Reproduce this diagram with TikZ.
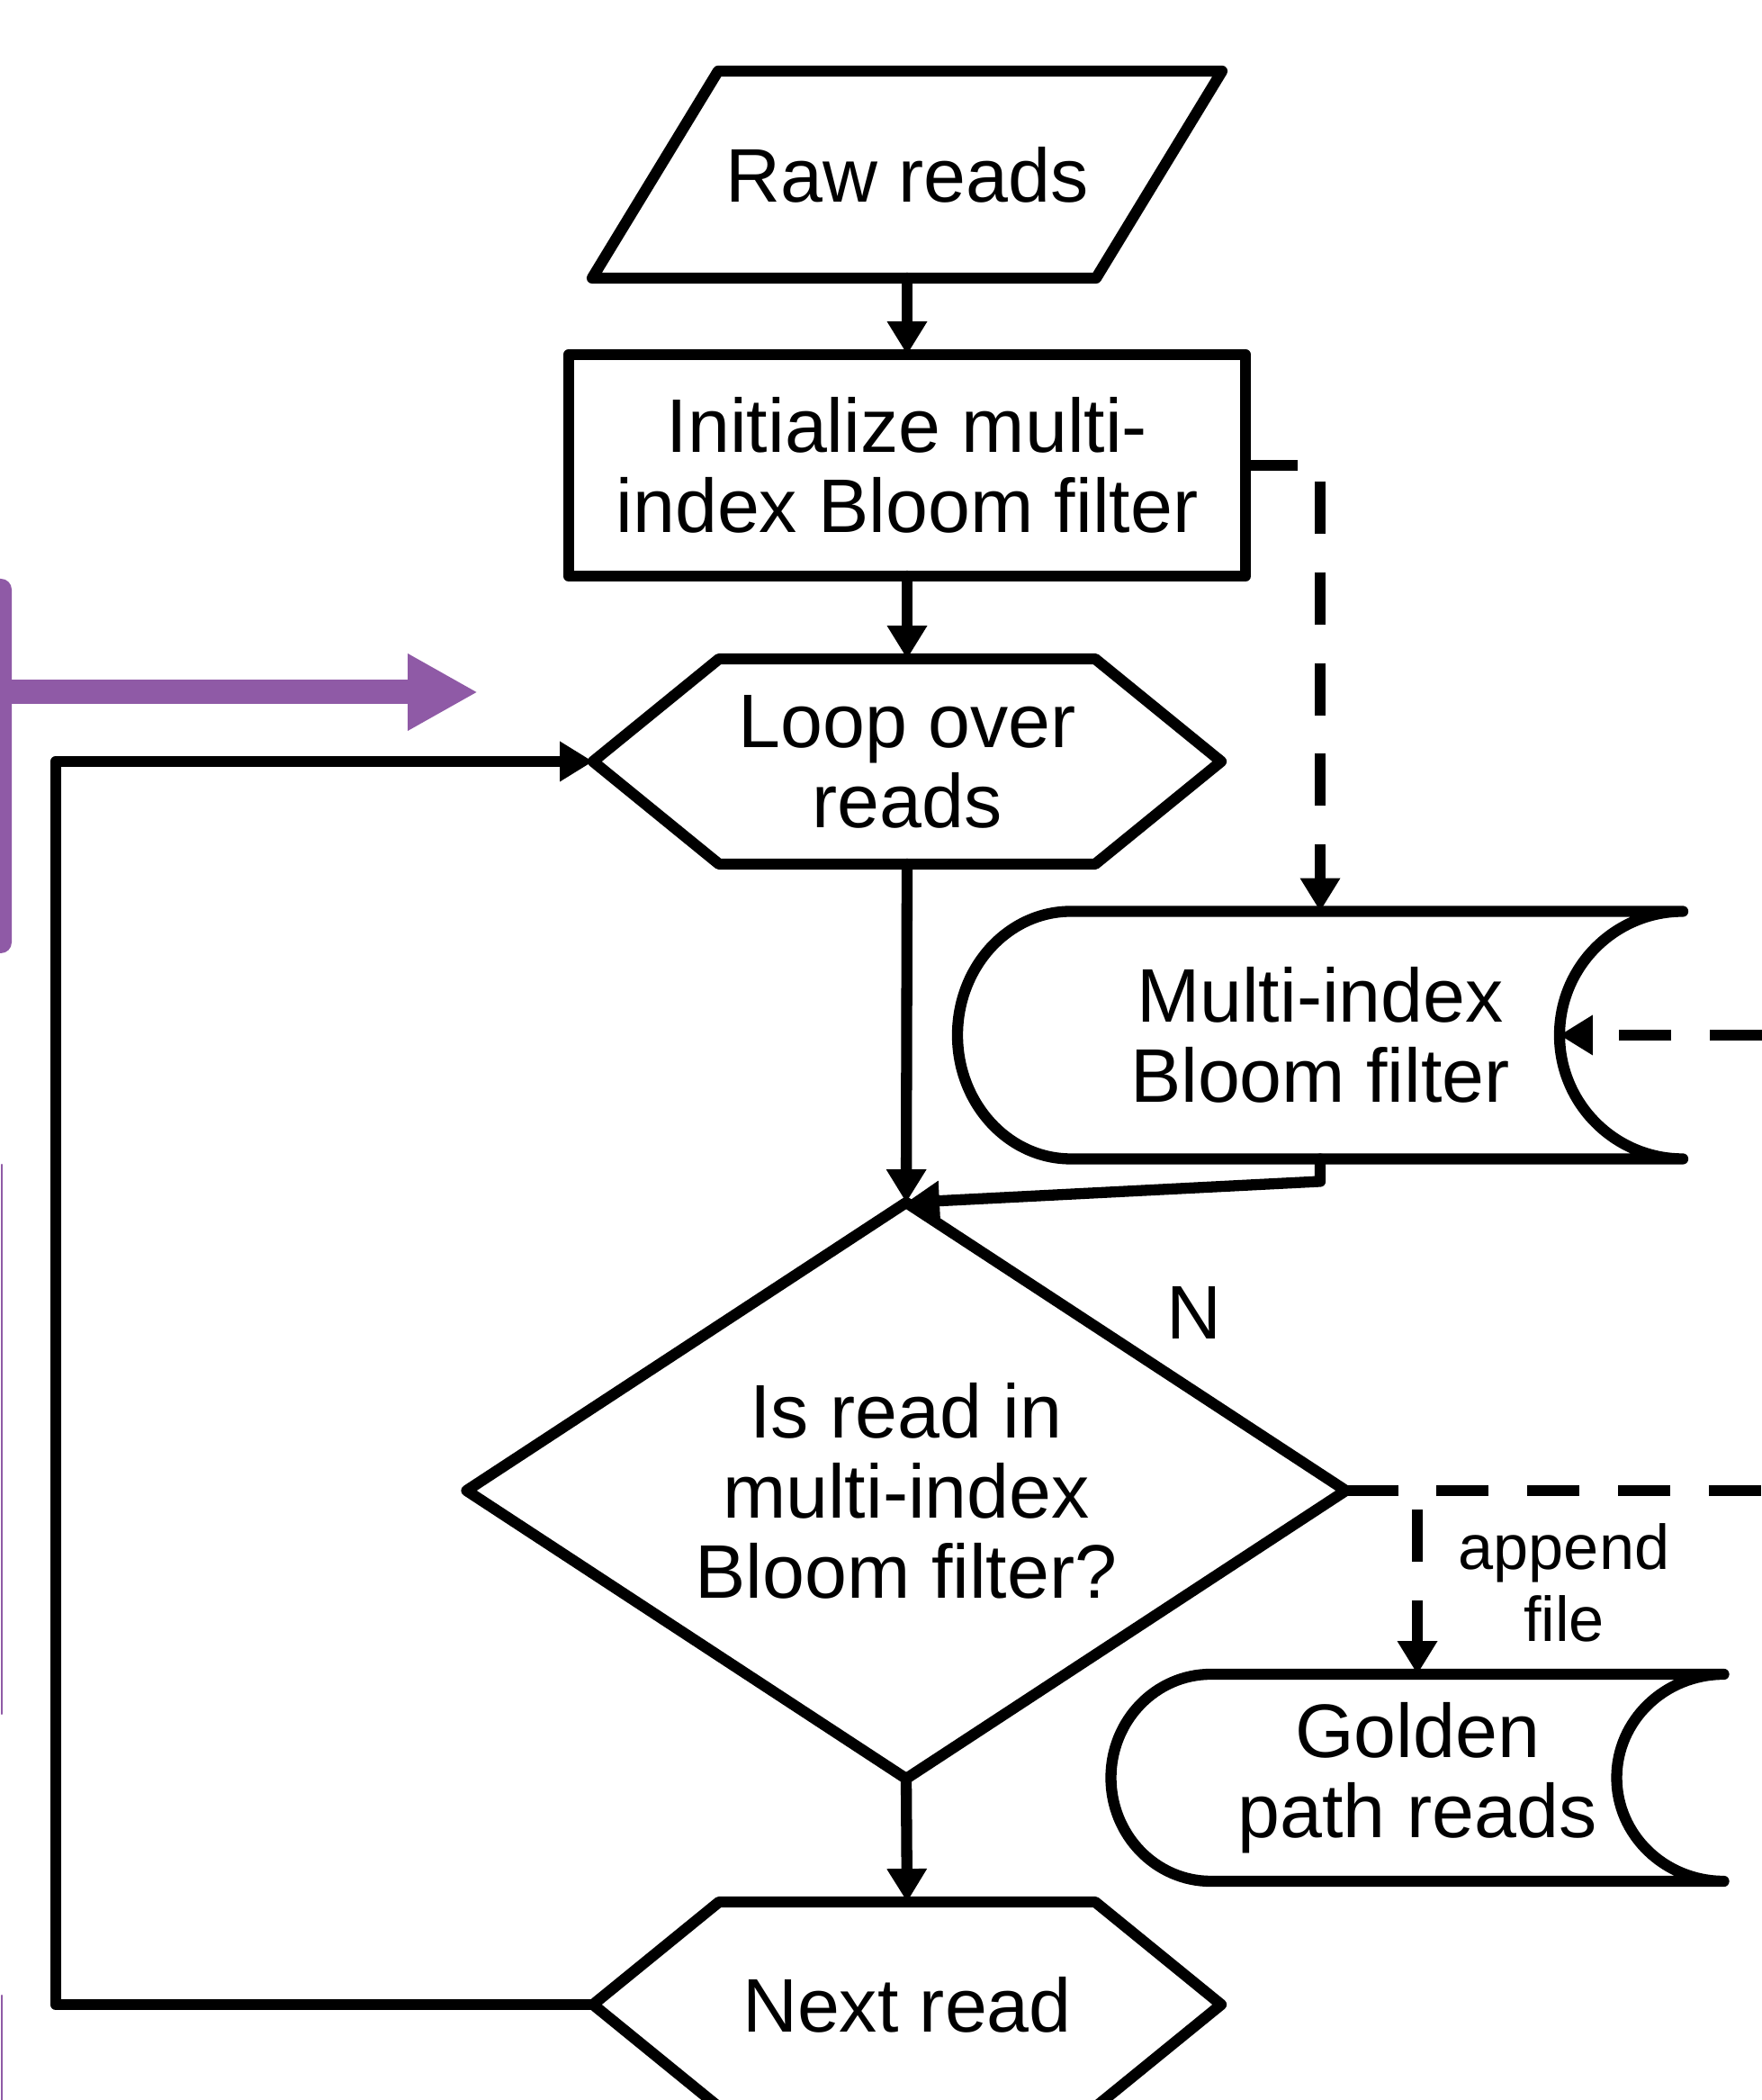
\documentclass[tikz,border=0pt]{standalone}
\usepackage{fontspec}
\setmainfont{Liberation Sans}
\usetikzlibrary{arrows.meta,shapes.geometric}
\definecolor{sidepurple}{RGB}{143,90,166}
\begin{document}
\begin{tikzpicture}[line width=3.5pt, line join=round, line cap=round,
        txt/.style={font=\fontsize{24}{25.3}\selectfont, align=center, inner sep=0pt, outer sep=0pt},
        flow/.style={-{Triangle[width=12pt,length=10.5pt]}},
        dashflow/.style={line cap=butt, dash pattern=on 16.5pt off 12.2pt},
        hexbox/.style={txt, minimum width=6.98cm, minimum height=2.28cm}]
                    \useasboundingbox (0, 0) rectangle (19.58, 23.33);
                    \clip (0, 0) rectangle (19.58, 23.33);
                    \fill[sidepurple, rounded corners=.12cm] (-.5, 12.74) rectangle (.13, 16.90);
                    \coordinate (pin) at (0, 15.64);
                    \coordinate (pout) at (5.31, 15.64);
                    \draw[sidepurple, line width=.27cm, line cap=butt, -{Triangle[width=.8cm,length=.78cm]}] (pin) to (pout);
                    \draw[sidepurple, line width=.6pt] (.02, 10.39) to (.02, 4.29);
                    \draw[sidepurple, line width=.6pt] (.02, 1.16) to (.02, -.1);
                    \node[txt, minimum width=5.60cm, minimum height=2.30cm] (raw) at (10.08, 21.39){Raw reads};
                    \node[txt, draw, minimum width=7.52cm, minimum height=2.46cm] (init) at (10.08, 18.16){Initialize multi-\\index Bloom filter};
                    \node[hexbox] (loop) at (10.08, 14.87){Loop over\\reads};
                    \node[txt, draw, diamond, shape aspect=1.53, minimum width=9.77cm, minimum height=6.40cm] (dec) at (10.07, 6.77){Is read in\\multi-index\\Bloom filter?};
                    \node[hexbox] (next) at (10.08, 1.06){Next read};
                    \node[txt, minimum width=8.06cm, minimum height=2.75cm] (mib) at (14.67, 11.83){Multi-index\\Bloom filter};
                    \node[txt, minimum width=6.81cm, minimum height=2.30cm] (gold) at (15.75, 3.58){Golden\\path reads};
                    \draw([xshift=.7cm]raw.north west) -- ([xshift=.7cm]raw.north east)
                        -- ([xshift=-.7cm]raw.south east) -- ([xshift=-.7cm]raw.south west) -- cycle;
                    \foreach \n in {loop, next}
                        \draw([xshift=1.4cm]\n.north west) -- ([xshift=-1.4cm]\n.north east) -- (\n.east)
                            -- ([xshift=-1.4cm]\n.south east) -- ([xshift=1.4cm]\n.south west) -- (\n.west) -- cycle;
                    \draw(mib.north east) -- ([xshift=1.26cm]mib.north west)
                        arc[start angle=90, end angle=270, x radius=1.26cm, y radius=1.375cm]
                        -- (mib.south east) arc[start angle=270, end angle=90, x radius=1.37cm, y radius=1.375cm];
                    \draw(gold.north east) -- ([xshift=1.11cm]gold.north west)
                        arc[start angle=90, end angle=270, x radius=1.11cm, y radius=1.15cm]
                        -- (gold.south east) arc[start angle=270, end angle=90, x radius=1.19cm, y radius=1.15cm];
                    \draw[flow](raw.south) to (init.north);
                    \draw[flow](init.south) to (loop.north);
                    \draw[flow](loop.south) to (dec.north);
                    \draw[flow](mib.south) -- ++(0, -.25) -- (dec.north);
                    \draw[flow, dashflow](init.east) -| (mib.north);
                    \coordinate (mibin) at (19.58, 11.83);
                    \draw[flow, dashflow](mibin) to ([xshift=-1.37cm]mib.east);
                    \coordinate (decout) at (19.58, 6.77);
                    \draw[dashflow](dec.east) to (decout);
                    \draw[flow, dashflow](dec.east) -| (gold.north);
                        \node[font=\fontsize{20}{22.8}\selectfont, align=center, inner sep=0pt] (app) at (17.38, 5.75){append\\file};
                        \node[txt] (no) at (13.27, 8.75){N};
                    \draw[flow](dec.south) to (next.north);
                    \coordinate (back) at (.62, 0);
                    \draw[flow](next.west) -- (next.west -| back) -- (loop.west -| back) -- (loop.west);
                \end{tikzpicture}
\end{document}
